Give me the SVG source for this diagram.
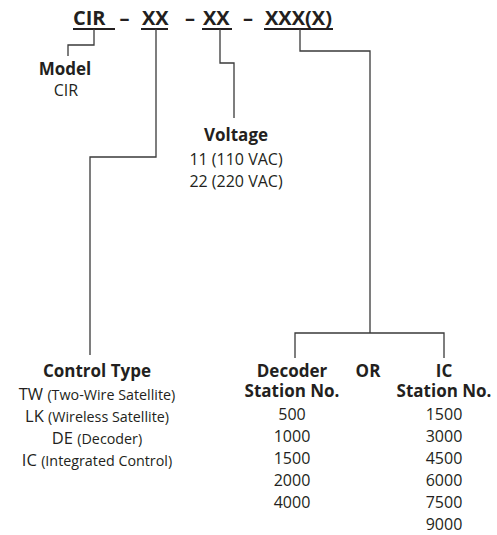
<svg xmlns="http://www.w3.org/2000/svg" width="497" height="535" viewBox="0 0 497 535">
<style>
text{font-family:"Open Sans","Liberation Sans",sans-serif;fill:#231f20}
.h{font-weight:bold;font-size:20px}
.b{font-weight:bold;font-size:17px;text-anchor:middle}
.r{font-size:16px;text-anchor:middle}
.t{font-size:16.5px;text-anchor:middle}
.s{font-size:14.3px}
.c{fill:none;stroke:#3a3a3a;stroke-width:1.3}
.u{stroke:#231f20;stroke-width:2}
</style>
<rect width="497" height="535" fill="#fff"/>
<g id="code">
<text class="h" x="73" y="25">CIR</text>
<text class="h" x="124.5" y="25" text-anchor="middle">–</text>
<text class="h" x="142" y="25">XX</text>
<text class="h" x="190" y="25" text-anchor="middle">–</text>
<text class="h" x="203" y="25">XX</text>
<text class="h" x="248" y="25" text-anchor="middle">–</text>
<text class="h" x="265" y="25">XXX(X)</text>
<line class="u" x1="73" y1="29" x2="115" y2="29"/>
<line class="u" x1="141" y1="29" x2="168" y2="29"/>
<line class="u" x1="202" y1="29" x2="232" y2="29"/>
<line class="u" x1="264" y1="29" x2="333" y2="29"/>
</g>
<g id="connectors">
<path class="c" d="M94,29 V45 H68 V56"/>
<path class="c" d="M156,29 V157 H90 V355"/>
<path class="c" d="M220,29 V63 H234 V118"/>
<path class="c" d="M300,29 V51 H370 V333"/>
<path class="c" d="M295,358 V333 H444 V358"/>
</g>
<g id="model">
<text class="b" x="65" y="75">Model</text>
<text class="r" x="66" y="96">CIR</text>
</g>
<g id="voltage">
<text class="b" x="236" y="141">Voltage</text>
<text class="r" x="236" y="164.5">11 (110 VAC)</text>
<text class="r" x="236" y="186.5">22 (220 VAC)</text>
</g>
<g id="control-type">
<text class="b" x="97" y="377">Control Type</text>
<text class="t" x="97" y="400">TW <tspan class="s">(Two-Wire Satellite)</tspan></text>
<text class="t" x="97" y="422">LK <tspan class="s">(Wireless Satellite)</tspan></text>
<text class="t" x="97" y="444">DE <tspan class="s">(Decoder)</tspan></text>
<text class="t" x="97" y="466">IC <tspan class="s">(Integrated Control)</tspan></text>
</g>
<g id="decoder">
<text class="b" x="292" y="377">Decoder</text>
<text class="b" x="292" y="397">Station No.</text>
<text class="r" x="292" y="420">500</text>
<text class="r" x="292" y="442">1000</text>
<text class="r" x="292" y="464">1500</text>
<text class="r" x="292" y="486">2000</text>
<text class="r" x="292" y="508">4000</text>
</g>
<g id="or">
<text class="b" x="368" y="377">OR</text>
</g>
<g id="ic">
<text class="b" x="444" y="377">IC</text>
<text class="b" x="444" y="397">Station No.</text>
<text class="r" x="444" y="420">1500</text>
<text class="r" x="444" y="442">3000</text>
<text class="r" x="444" y="464">4500</text>
<text class="r" x="444" y="486">6000</text>
<text class="r" x="444" y="508">7500</text>
<text class="r" x="444" y="530">9000</text>
</g>
</svg>
